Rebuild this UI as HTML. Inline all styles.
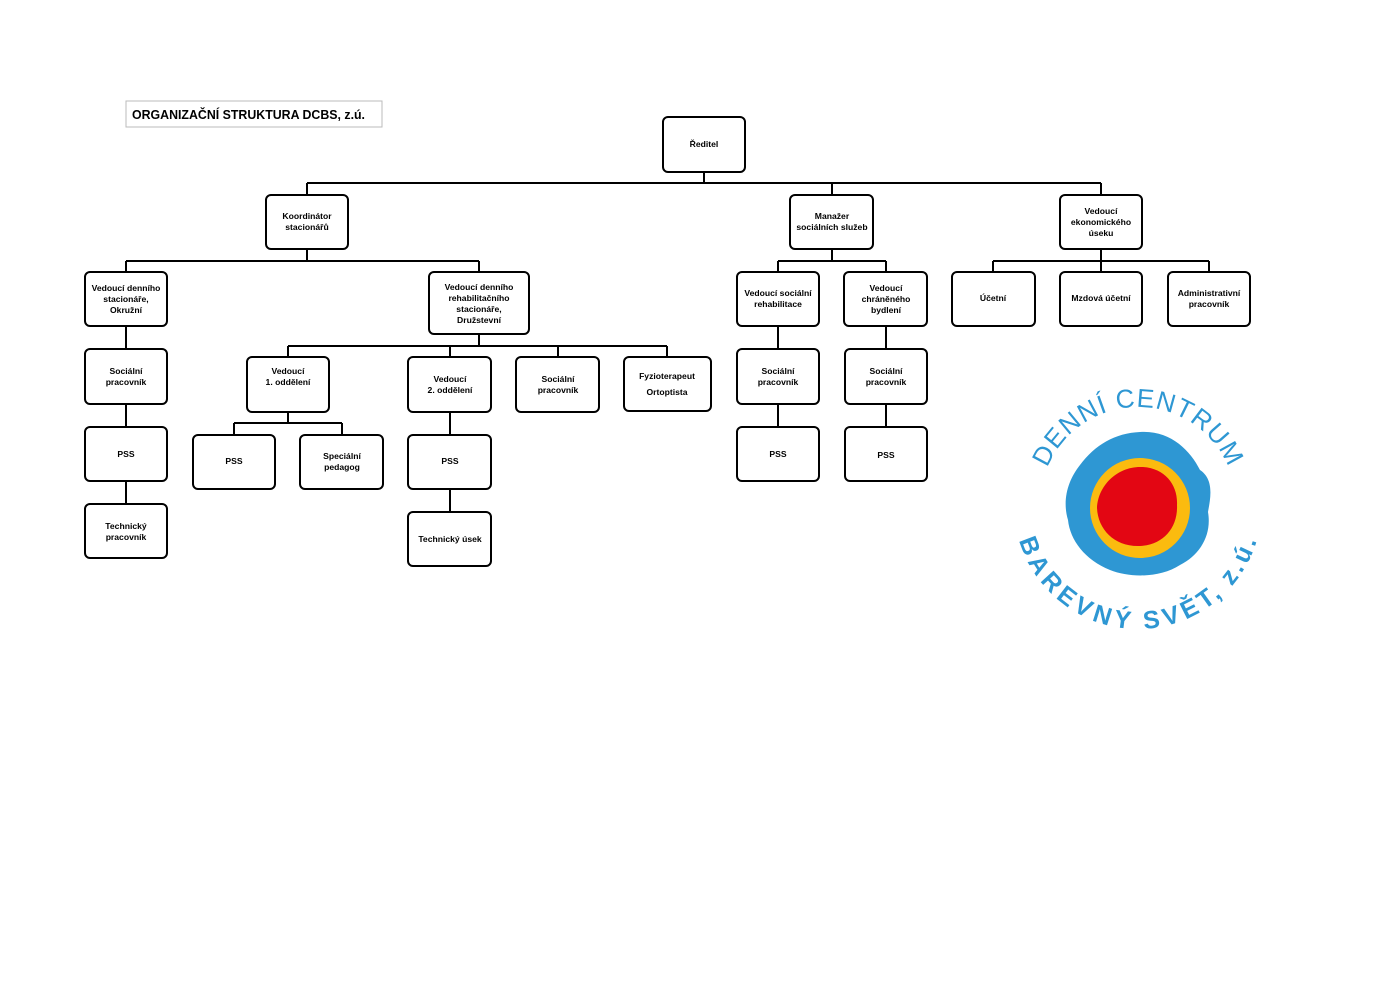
<!DOCTYPE html>
<html><head><meta charset="utf-8"><style>
html,body{margin:0;padding:0;background:#fff}
svg{display:block}
.b{fill:#fff;stroke:#000;stroke-width:2}
.t{font-family:"Liberation Sans",sans-serif;font-size:8.6px;font-weight:bold;text-anchor:middle;fill:#000}
.l{stroke:#000;stroke-width:2;fill:none}
</style></head><body>
<svg width="1400" height="989" viewBox="0 0 1400 989" xmlns="http://www.w3.org/2000/svg">
<rect x="126" y="101" width="256" height="26" fill="#fff" stroke="#bbb" stroke-width="1"/>
<text x="132" y="119" font-family="Liberation Sans,sans-serif" font-size="13" font-weight="bold" textLength="233" lengthAdjust="spacingAndGlyphs">ORGANIZAČNÍ STRUKTURA DCBS, z.ú.</text>
<g class="l">
<path d="M704 172V183M307 183H1101M307 183V195M832 183V195M1101 183V195"/>
<path d="M307 249V261M126 261H479M126 261V272M479 261V272"/>
<path d="M832 249V261M778 261H886M778 261V272M886 261V272"/>
<path d="M1101 249V261M993 261H1209M993 261V272M1101 261V272M1209 261V272"/>
<path d="M126 326V349M126 404V427M126 481V504"/>
<path d="M479 334V346M288 346H667M288 346V357M450 346V357M558 346V357M667 346V357"/>
<path d="M288 412V423M234 423H342M234 423V435M342 423V435"/>
<path d="M450 412V435M450 489V512"/>
<path d="M778 326V349M778 404V427M886 326V349M886 404V427"/>
</g>
<g class="b">
<rect x="663" y="117" width="82" height="55" rx="5"/>
<rect x="266" y="195" width="82" height="54" rx="5"/>
<rect x="790" y="195" width="83" height="54" rx="5"/>
<rect x="1060" y="195" width="82" height="54" rx="5"/>
<rect x="85" y="272" width="82" height="54" rx="5"/>
<rect x="429" y="272" width="100" height="62" rx="5"/>
<rect x="737" y="272" width="82" height="54" rx="5"/>
<rect x="844" y="272" width="83" height="54" rx="5"/>
<rect x="952" y="272" width="83" height="54" rx="5"/>
<rect x="1060" y="272" width="82" height="54" rx="5"/>
<rect x="1168" y="272" width="82" height="54" rx="5"/>
<rect x="85" y="349" width="82" height="55" rx="5"/>
<rect x="247" y="357" width="82" height="55" rx="5"/>
<rect x="408" y="357" width="83" height="55" rx="5"/>
<rect x="516" y="357" width="83" height="55" rx="5"/>
<rect x="624" y="357" width="87" height="54" rx="5"/>
<rect x="737" y="349" width="82" height="55" rx="5"/>
<rect x="845" y="349" width="82" height="55" rx="5"/>
<rect x="85" y="427" width="82" height="54" rx="5"/>
<rect x="193" y="435" width="82" height="54" rx="5"/>
<rect x="300" y="435" width="83" height="54" rx="5"/>
<rect x="408" y="435" width="83" height="54" rx="5"/>
<rect x="737" y="427" width="82" height="54" rx="5"/>
<rect x="845" y="427" width="82" height="54" rx="5"/>
<rect x="85" y="504" width="82" height="54" rx="5"/>
<rect x="408" y="512" width="83" height="54" rx="5"/>
</g>
<g class="t">
<text x="704" y="147">Ředitel</text>
<text x="307" y="219">Koordinátor</text><text x="307" y="230">stacionářů</text>
<text x="832" y="219">Manažer</text><text x="832" y="230">sociálních služeb</text>
<text x="1101" y="214">Vedoucí</text><text x="1101" y="225">ekonomického</text><text x="1101" y="236">úseku</text>
<text x="126" y="291">Vedoucí denního</text><text x="126" y="302">stacionáře,</text><text x="126" y="313">Okružní</text>
<text x="479" y="290">Vedoucí denního</text><text x="479" y="301">rehabilitačního</text><text x="479" y="312">stacionáře,</text><text x="479" y="323">Družstevní</text>
<text x="778" y="296">Vedoucí sociální</text><text x="778" y="307">rehabilitace</text>
<text x="886" y="291">Vedoucí</text><text x="886" y="302">chráněného</text><text x="886" y="313">bydlení</text>
<text x="993" y="301">Účetní</text>
<text x="1101" y="301">Mzdová účetní</text>
<text x="1209" y="296">Administrativní</text><text x="1209" y="307">pracovník</text>
<text x="126" y="374">Sociální</text><text x="126" y="385">pracovník</text>
<text x="288" y="374">Vedoucí</text><text x="288" y="385">1. oddělení</text>
<text x="450" y="382">Vedoucí</text><text x="450" y="393">2. oddělení</text>
<text x="558" y="382">Sociální</text><text x="558" y="393">pracovník</text>
<text x="667" y="379">Fyzioterapeut</text><text x="667" y="395">Ortoptista</text>
<text x="778" y="374">Sociální</text><text x="778" y="385">pracovník</text>
<text x="886" y="374">Sociální</text><text x="886" y="385">pracovník</text>
<text x="126" y="457">PSS</text>
<text x="234" y="464">PSS</text>
<text x="342" y="459">Speciální</text><text x="342" y="470">pedagog</text>
<text x="450" y="464">PSS</text>
<text x="778" y="457">PSS</text>
<text x="886" y="458">PSS</text>
<text x="126" y="529">Technický</text><text x="126" y="540">pracovník</text>
<text x="450" y="542">Technický úsek</text>
</g>
<!-- logo -->
<path d="M1140 432 C1170 430 1190 450 1200 470 C1215 480 1210 500 1208 512 C1212 535 1200 555 1180 565 C1160 578 1130 578 1110 570 C1085 560 1070 540 1068 520 C1062 500 1068 480 1080 465 C1095 445 1115 433 1140 432Z" fill="#2e97d3"/>
<circle cx="1140" cy="508" r="50" fill="#fbbb0f"/>
<path d="M1142 467 C1165 468 1178 485 1177 505 C1178 528 1163 545 1140 546 C1115 547 1098 530 1097 508 C1098 485 1118 466 1142 467Z" fill="#e30613"/>
<defs>
<path id="arcTop" d="M1040 505 A98 98 0 0 1 1236 505"/>
<path id="arcBot" d="M1032 505 A106 106 0 0 0 1244 505"/>
</defs>
<text font-family="Liberation Sans,sans-serif" font-size="26" fill="#2e97d3" letter-spacing="1"><textPath href="#arcTop" startOffset="50%" text-anchor="middle">DENNÍ CENTRUM</textPath></text>
<text font-family="Liberation Sans,sans-serif" font-size="25" font-weight="bold" fill="#2e97d3" letter-spacing="1.5" dominant-baseline="hanging"><textPath href="#arcBot" startOffset="50%" text-anchor="middle">BAREVNÝ SVĚT, z.ú.</textPath></text>
</svg>
</body></html>
